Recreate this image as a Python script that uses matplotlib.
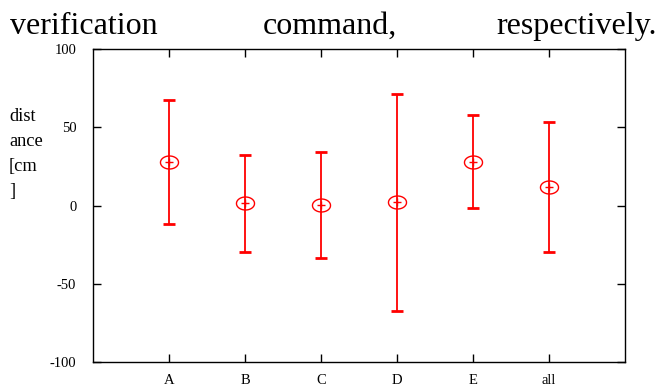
import numpy as np
import matplotlib
matplotlib.use("Agg")
import matplotlib.pyplot as plt
from matplotlib.path import Path

categories = ["A", "B", "C", "D", "E", "all"]
means = [27.5, 1.3, 0.5, 2.2, 28.1, 11.8]
errors = [39.6, 30.8, 34.0, 69.3, 30.0, 41.7]
yticks = [-100, -50, 0, 50, 100]

plt.rcParams['font.family'] = ['Liberation Serif', 'DejaVu Serif']

W, H = 665, 387
fig = plt.figure(figsize=(W / 100, H / 100), dpi=100)
ax = fig.add_axes([93 / W, 1 - 362 / H, (625 - 93) / W, (362 - 49) / H])

x = np.arange(1, len(categories) + 1)
red = "#ff0000"
ax.errorbar(x, means, yerr=errors, fmt='none', ecolor=red, elinewidth=1.3,
            capsize=4.6, capthick=2.0)

t = np.linspace(0, 2 * np.pi, 60)
ell = Path(np.column_stack([np.cos(t), 0.72 * np.sin(t)]))
ax.plot(x, means, linestyle='none', marker=ell, markersize=13,
        markerfacecolor='none', markeredgecolor=red, markeredgewidth=1.0)
ax.plot(x, means, linestyle='none', marker='+', markersize=6,
        markeredgecolor=red, markeredgewidth=1.0)

ax.set_xlim(0, 7)
ax.set_ylim(-100, 100)
ax.set_xticks(x)
ax.set_xticklabels(categories)
ax.set_yticks(yticks)
ax.set_yticklabels([str(v) for v in yticks])
ax.tick_params(direction='in', length=6, width=1, top=True, right=True,
               labelsize=10.5, pad=9, colors='black')
ax.tick_params(axis='y', pad=12)
for s in ax.spines.values():
    s.set_linewidth(1.0)
    s.set_color('black')

fig.text(9 / W, 1 - 154 / H, "dist\nance\n[cm\n]", ha='left', va='center',
         fontsize=13.2, linespacing=1.6)

yb = 1 - 34 / H
fig.text(10 / W, yb, "verification", ha='left', va='baseline', fontsize=23)
fig.text(263 / W, yb, "command,", ha='left', va='baseline', fontsize=23)
fig.text(657 / W, yb, "respectively.", ha='right', va='baseline', fontsize=23)

fig.savefig("out.png", dpi=100)
